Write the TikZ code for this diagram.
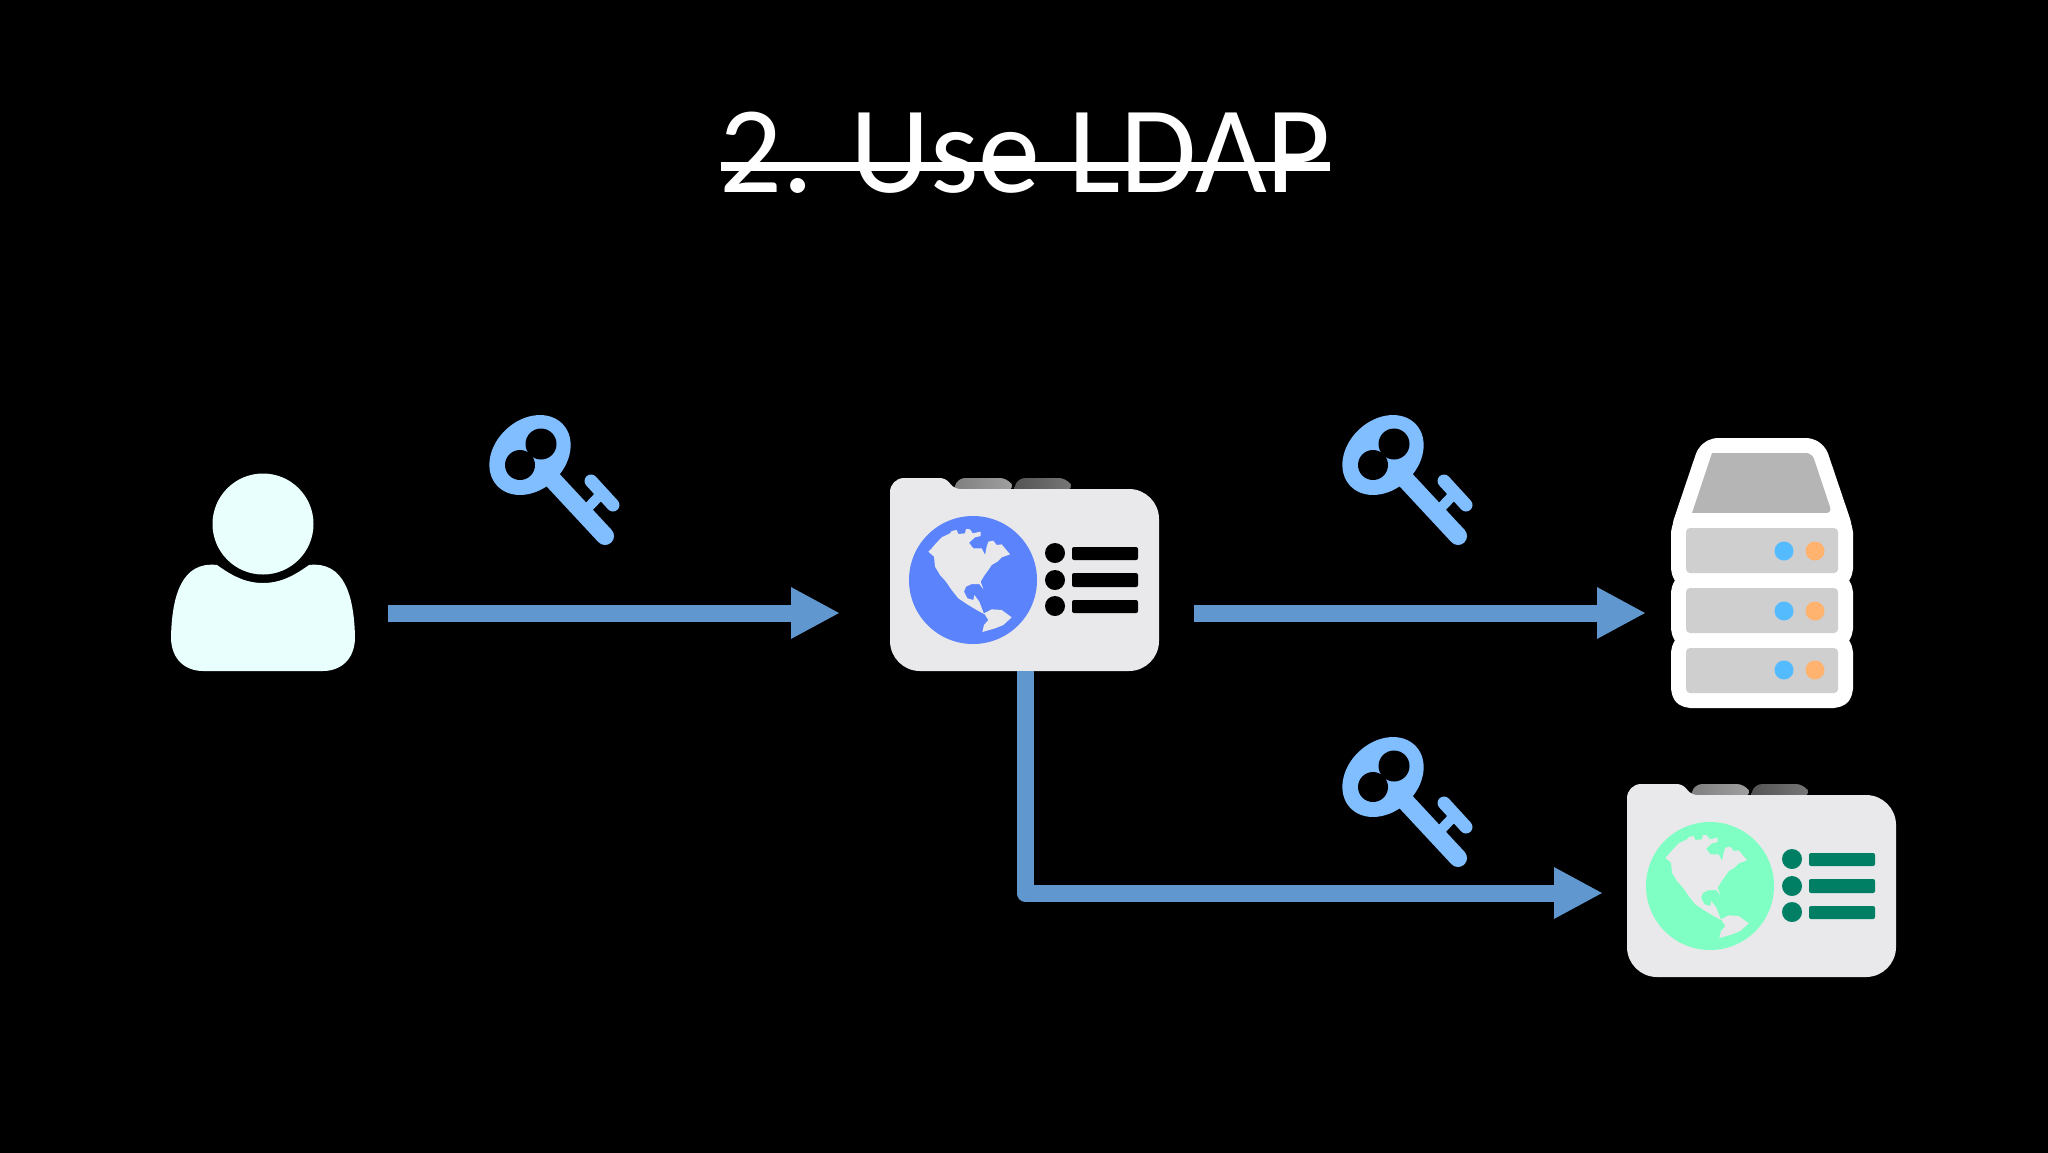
\documentclass[tikz,border=0pt]{standalone}
\usepackage{fontspec}
\setmainfont{Carlito}
\usetikzlibrary{arrows.meta}
\definecolor{flowblue}{HTML}{5F97CE}
\definecolor{keyblue}{HTML}{80BEFF}
\definecolor{panelgrey}{HTML}{E9E9EB}
\definecolor{userwhite}{HTML}{E8FFFD}
\definecolor{globeblue}{HTML}{5B83FB}
\definecolor{globegreen}{HTML}{80FFC4}
\definecolor{listgreen}{HTML}{007F65}
\definecolor{hatgrey}{HTML}{B5B5B5}
\definecolor{rowgrey}{HTML}{CFCFCF}
\definecolor{ledblue}{HTML}{55BBFF}
\definecolor{ledorange}{HTML}{FFB36F}
\tikzset{
    port/.style={inner sep=0pt, outer sep=0pt, minimum height=20pt},
    flow/.style={draw=flowblue, line width=8.5pt, line join=round, -{Triangle[length=24.5pt, width=24pt]}},
    shell/.style={draw=white, line width=15pt, line join=round},
    pics/keyicon/.style={code={
        \fill[keyblue, rotate=43] (0,0) ellipse [x radius=45, y radius=35];
        \fill[black] (-10,10) circle [radius=15];
        \fill[black] (11,-11) circle [radius=15.5];
        \draw[keyblue, line width=9pt, line cap=round] (22,24) -- (75,81);
        \draw[keyblue, line width=5pt] (53,58) -- (72,38);
        \draw[keyblue, line width=6.5pt, line cap=round] (61,26) -- (83,50);
    }},
    pics/gatewayicon/.style 2 args={code={
        \shade[left color=black!50, right color=black!37, rounded corners=4pt] (94,40) -- (97,28) -- (148,28) -- (155,40) [sharp corners] -- cycle;
        \shade[left color=black!67, right color=black!53, rounded corners=4pt] (154,40) -- (157,28) -- (207,28) -- (214,40) [sharp corners] -- cycle;
        \fill[panelgrey] (30,120) [rounded corners=7pt] -- (30,28) [rounded corners=3pt] -- (86,28) -- (94,39) [rounded corners=15pt] -- (299,39) -- (299,221) -- (30,221) -- cycle;
        \fill[#1] (113,130) circle [radius=64];
        \fill[panelgrey, scale=1/3] (205,305) -- (215,295) -- (228,280) -- (245,262) -- (270,250) -- (275,243) -- (290,240) -- (295,252) -- (315,250) -- (318,237) -- (330,238) -- (338,250) -- (362,245) -- (362,258) -- (345,262) -- (327,278) -- (340,295) -- (365,295) -- (375,315) -- (380,290) -- (385,275) -- (400,272) -- (410,285) -- (425,283) -- (450,313) -- (425,322) -- (412,335) -- (395,345) -- (385,360) -- (372,378) -- (362,395) -- (370,418) -- (358,402) -- (335,402) -- (318,410) -- (312,425) -- (322,445) -- (340,450) -- (343,435) -- (358,455) -- (372,492) -- (350,480) -- (325,465) -- (295,445) -- (275,420) -- (258,395) -- (240,375) -- (225,350) -- (222,320) -- cycle;
        \fill[panelgrey, scale=1/3] (372,490) -- (395,478) -- (425,480) -- (455,502) -- (430,525) -- (405,535) -- (367,546) -- (372,525) -- (385,510) -- cycle;
        \fill[#2] (195,103) circle [radius=10];
        \fill[#2] (195,130) circle [radius=10];
        \fill[#2] (195,156) circle [radius=10];
        \fill[#2, rounded corners=1pt] (212,97) rectangle (278,110);
        \fill[#2, rounded corners=1pt] (212,123) rectangle (278,137);
        \fill[#2, rounded corners=1pt] (212,150) rectangle (278,163);
    }}
}
\begin{document}
\begin{tikzpicture}[x=0.5pt, y=-0.5pt]
    \useasboundingbox (0,0) rectangle (2048,1152);
    \fill[black] (-8,-8) rectangle (2056,1160);

    \node[text=white, anchor=base, font=\fontsize{62}{62}\selectfont, inner sep=0pt] (title) at (1025,192) {2. Use LDAP};
    \draw[white, line width=4.5pt] ([xshift=0.9pt, yshift=13pt]title.base west) -- ([xshift=-0.6pt, yshift=13pt]title.base east);

    \fill[userwhite] (263,524) circle [radius=50.5];
    \fill[userwhite] (217,565) .. controls (235,578) and (248,583) .. (263,583) .. controls (278,583) and (291,578) .. (309,565) .. controls (344,561) and (354,595) .. (355,637) .. controls (355,660) and (340,671) .. (323,671) -- (203,671) .. controls (186,671) and (171,660) .. (171,637) .. controls (172,595) and (182,561) .. (217,565) -- cycle;
    \node[port, minimum width=93pt] (user) at (263,613) {};

    \pic at (860,450) {gatewayicon={globeblue}{black}};
    \node[port, minimum width=135pt, minimum height=97pt] (gateway) at (1025,574) {};

    \pic at (1597,756) {gatewayicon={globegreen}{listgreen}};
    \node[port, minimum width=135pt, minimum height=97pt] (backend) at (1762,881) {};

    \draw[shell, rounded corners=3pt] (1712,453) -- (1812,453) -- (1838,530) -- (1686,530) -- cycle;
    \draw[shell, rounded corners=2pt] (1686,528) rectangle (1838,573);
    \draw[shell, rounded corners=2pt] (1686,588) rectangle (1838,633);
    \draw[shell, rounded corners=2pt] (1686,648) rectangle (1838,693);
    \fill[hatgrey, rounded corners=3pt] (1712,453) -- (1812,453) -- (1832,513) [sharp corners] -- (1692,513) -- cycle;
    \fill[white] (1692,513) rectangle (1832,528);
    \fill[rowgrey, rounded corners=2pt] (1686,528) rectangle (1838,573);
    \fill[rowgrey, rounded corners=2pt] (1686,588) rectangle (1838,633);
    \fill[rowgrey, rounded corners=2pt] (1686,648) rectangle (1838,693);
    \fill[ledblue] (1784,551) circle [radius=9.5];
    \fill[ledorange] (1815,551) circle [radius=9.5];
    \fill[ledblue] (1784,611) circle [radius=9.5];
    \fill[ledorange] (1815,611) circle [radius=9.5];
    \fill[ledblue] (1784,670) circle [radius=9.5];
    \fill[ledorange] (1815,670) circle [radius=9.5];
    \node[port, minimum width=91pt, minimum height=134pt] (server) at (1762,573) {};

    \pic at (530,455) {keyicon};
    \pic at (1383,455) {keyicon};
    \pic at (1383,777) {keyicon};

    \draw[flow, shorten <=16pt, shorten >=25pt] (user.east) -- (gateway.west |- user.east);
    \draw[flow, shorten <=17pt, shorten >=12.5pt] (gateway.east |- user.east) -- (server.west |- user.east);
    \draw[flow, shorten >=12pt] (gateway.south) |- ([yshift=-6pt]backend.west);
\end{tikzpicture}
\end{document}
